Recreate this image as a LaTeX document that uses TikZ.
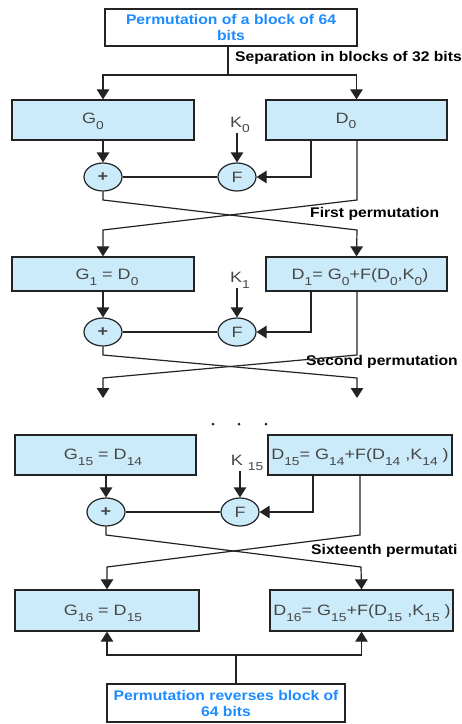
\documentclass[tikz,border=0pt]{standalone}
\usepackage{fontspec}
\setmainfont{Liberation Sans}
\newfontfamily\labfont[FakeStretch=1.12]{Liberation Sans}
\newfontfamily\boxfont[FakeStretch=1.2]{Liberation Sans}
\usetikzlibrary{arrows.meta,shapes.geometric}
\definecolor{boxblue}{RGB}{204,235,250}
\definecolor{txtblue}{RGB}{30,140,255}
\definecolor{ink}{RGB}{35,35,35}
\definecolor{boxtxt}{RGB}{70,70,70}
\newcommand{\sbx}[1]{\raisebox{-0.38em}{\fontsize{11.5}{11.5}\selectfont #1}}
\tikzset{
 lab/.style={font=\labfont\bfseries\fontsize{14}{16}\selectfont, anchor=west, inner sep=0pt},
 bluebox/.style={draw=ink, line width=1.3pt, fill=white, align=center, text=txtblue, font=\labfont\bfseries\fontsize{14}{16}\selectfont, inner sep=0pt},
 blk/.style={draw=ink, line width=1.3pt, fill=boxblue, inner sep=0pt},
 txt/.style={font=\boxfont\fontsize{15}{16}\selectfont, text=boxtxt, inner sep=0pt},
 op/.style={ellipse, draw=ink, line width=1.2pt, fill=boxblue, minimum width=38pt, minimum height=28pt, inner sep=0pt, font=\boxfont\fontsize{15}{16}\selectfont, text=boxtxt},
 wire/.style={draw=ink, line width=1.2pt},
 arr/.style={wire, -{Triangle[length=10pt,width=12.5pt]}},
 dotn/.style={circle, fill=ink, inner sep=0pt, minimum size=3pt},
}
\begin{document}
\begin{tikzpicture}[x=1pt,y=-1pt]
\useasboundingbox (0,0) rectangle (462,724);
% top
\node[bluebox, minimum width=252pt, minimum height=37pt] (top) at (231,27.5) {Permutation of a block of 64\\bits};
\coordinate (sp) at (228,75);
\node[lab] (lsep) at (235,58) {Separation in blocks of 32 bits};
% row 1
\node[blk, minimum width=182pt, minimum height=40pt] (g0) at (103,120) {};
\node[blk, minimum width=181pt, minimum height=40pt] (d0) at (356.5,120) {};
\node[txt] (tg0) at (93,121) {G\sbx{0}};
\node[txt] (td0) at (346,121) {D\sbx{0}};
\node[txt] (k0) at (240,125) {K\sbx{0}};
\node[op] (p0) at (103,177) {\textbf{+}};
\node[op] (f0) at (237,177) {F};
\coordinate (d0a) at (311,177);
\coordinate (c0r) at (357,200);
\coordinate (c0l) at (103,200);
\coordinate (e0l) at (103,230);
\coordinate (e0r) at (357,230);
\node[lab] (l1) at (310,214) {First permutation};
% row 2
\node[blk, minimum width=182pt, minimum height=34pt] (g1) at (103,274) {};
\node[blk, minimum width=181pt, minimum height=34pt] (d1) at (356.5,274) {};
\node[txt] (tg1) at (107,277) {G\sbx{1} = D\sbx{0}};
\node[txt] (td1) at (360,277) {D\sbx{1}= G\sbx{0}+F(D\sbx{0},K\sbx{0})};
\node[txt] (k1) at (240,280) {K\sbx{1}};
\node[op] (p1) at (103,332) {\textbf{+}};
\node[op] (f1) at (237,332) {F};
\coordinate (d1a) at (311,332);
\coordinate (c1r) at (357,355);
\coordinate (c1l) at (103,355);
\coordinate (e1l) at (103,378);
\coordinate (e1r) at (357,378);
\coordinate (a1l) at (103,398);
\coordinate (a1r) at (357,398);
\node[lab] (l2) at (306,362) {Second permutation};
% dots
\node[dotn] (dt1) at (213,424) {};
\node[dotn] (dt2) at (239,424) {};
\node[dotn] (dt3) at (266,424) {};
% row 3
\node[blk, minimum width=181pt, minimum height=40pt] (g15) at (105.5,455) {};
\node[blk, minimum width=184pt, minimum height=40pt] (d15) at (360,455) {};
\node[txt] (tg15) at (103,457) {G\sbx{15} = D\sbx{14}};
\node[txt] (td15) at (360,457) {D\sbx{15}= G\sbx{14}+F(D\sbx{14} ,K\sbx{14} )};
\node[txt] (k15) at (247,463) {K \sbx{15}};
\node[op] (p15) at (106,512) {\textbf{+}};
\node[op] (f15) at (240,512) {F};
\coordinate (d15a) at (313,512);
\coordinate (c15r) at (360,535);
\coordinate (c15l) at (106,535);
\coordinate (e15l) at (107,567);
\coordinate (e15r) at (361,567);
\node[lab] (l3) at (311,551) {Sixteenth permutati};
% row 4
\node[blk, minimum width=184pt, minimum height=41pt] (g16) at (107,610.5) {};
\node[blk, minimum width=183pt, minimum height=41pt] (d16) at (361.5,610.5) {};
\node[txt] (tg16) at (103,613) {G\sbx{16} = D\sbx{15}};
\node[txt] (td16) at (362,613) {D\sbx{16}= G\sbx{15}+F(D\sbx{15} ,K\sbx{15} )};
\coordinate (j) at (236,655);
\node[bluebox, minimum width=238pt, minimum height=38pt] (bot) at (226,703) {Permutation reverses block of\\64 bits};
% connectors row 1
\draw[wire] (sp |- top.south) -- (sp);
\draw[arr] (sp) -| (g0.north);
\draw[arr] (sp) -| (d0.north);
\draw[arr] (g0.south) -- (p0.north);
\draw[wire] (p0.east) -- (f0.west);
\draw[arr] (f0 |- k0.south) -- (f0.north);
\draw[arr] (d0a |- d0.south) -- (d0a) -- (f0.east);
\draw[arr] (c0r |- d0.south) -- (c0r) -- (e0l) -- (g1.north);
\draw[arr] (p0.south) -- (c0l) -- (e0r) -- (d1.north);
% connectors row 2
\draw[arr] (g1.south) -- (p1.north);
\draw[wire] (p1.east) -- (f1.west);
\draw[arr] (f1 |- k1.south) -- (f1.north);
\draw[arr] (d1a |- d1.south) -- (d1a) -- (f1.east);
\draw[arr] (c1r |- d1.south) -- (c1r) -- (e1l) -- (a1l);
\draw[arr] (p1.south) -- (c1l) -- (e1r) -- (a1r);
% connectors row 3
\draw[arr] (p15 |- g15.south) -- (p15.north);
\draw[wire] (p15.east) -- (f15.west);
\draw[arr] (f15 |- k15.south) -- (f15.north);
\draw[arr] (d15a |- d15.south) -- (d15a) -- (f15.east);
\draw[arr] (c15r |- d15.south) -- (c15r) -- (e15l) -- (g16.north);
\draw[arr] (p15.south) -- (c15l) -- (e15r) -- (d16.north);
% bottom
\draw[wire] (j |- bot.north) -- (j);
\draw[arr] (j) -| (g16.south);
\draw[arr] (j) -| (d16.south);
\end{tikzpicture}
\end{document}
